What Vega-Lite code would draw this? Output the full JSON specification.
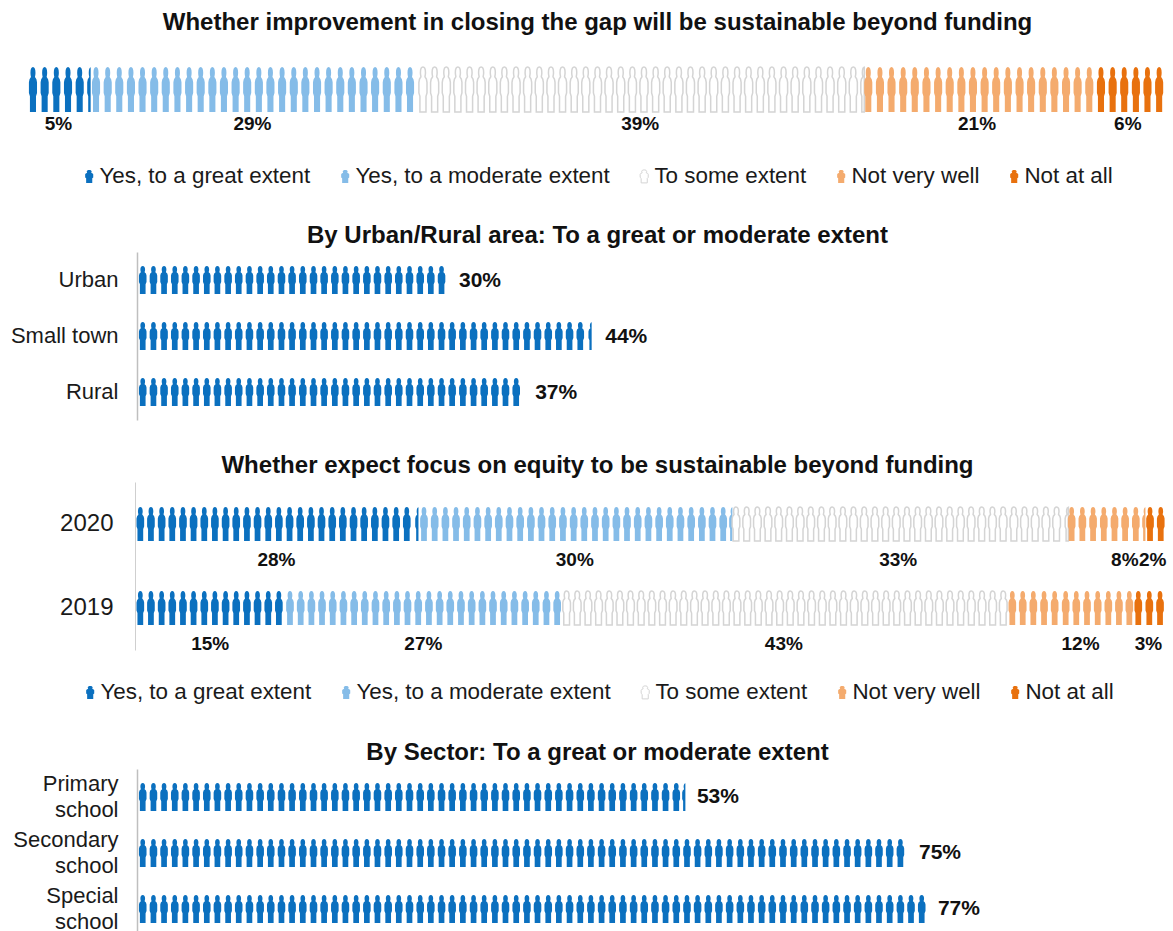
{
"$schema":"https://vega.github.io/schema/vega-lite/v6.json",
"width":1173,"height":931,"padding":0,"autosize":{"type":"none"},"background":"white",
"config":{"font":"Liberation Sans","view":{"stroke":null},"text":{"color":"#111111"},
 "axis":{"grid":false,"ticks":false}},
"datasets":{
"overall":[
{"row":"All","cat":"great","pos":0.35},{"row":"All","cat":"great","pos":1.38},{"row":"All","cat":"great","pos":2.41},{"row":"All","cat":"great","pos":3.44},{"row":"All","cat":"great","pos":4.47},{"row":"All","cat":"great","pos":5.49,"cut":true},
{"row":"All","cat":"moderate","pos":5.91},{"row":"All","cat":"moderate","pos":6.94},{"row":"All","cat":"moderate","pos":7.96},{"row":"All","cat":"moderate","pos":8.99},{"row":"All","cat":"moderate","pos":10.01},{"row":"All","cat":"moderate","pos":11.04},{"row":"All","cat":"moderate","pos":12.06},{"row":"All","cat":"moderate","pos":13.09},{"row":"All","cat":"moderate","pos":14.12},{"row":"All","cat":"moderate","pos":15.14},{"row":"All","cat":"moderate","pos":16.17},{"row":"All","cat":"moderate","pos":17.19},{"row":"All","cat":"moderate","pos":18.22},{"row":"All","cat":"moderate","pos":19.24},{"row":"All","cat":"moderate","pos":20.27},{"row":"All","cat":"moderate","pos":21.29},{"row":"All","cat":"moderate","pos":22.32},{"row":"All","cat":"moderate","pos":23.35},{"row":"All","cat":"moderate","pos":24.37},{"row":"All","cat":"moderate","pos":25.40},{"row":"All","cat":"moderate","pos":26.42},{"row":"All","cat":"moderate","pos":27.45},{"row":"All","cat":"moderate","pos":28.47},{"row":"All","cat":"moderate","pos":29.50},{"row":"All","cat":"moderate","pos":30.52},{"row":"All","cat":"moderate","pos":31.55},{"row":"All","cat":"moderate","pos":32.58},{"row":"All","cat":"moderate","pos":33.60},
{"row":"All","cat":"some","pos":34.74},{"row":"All","cat":"some","pos":35.77},{"row":"All","cat":"some","pos":36.80},{"row":"All","cat":"some","pos":37.82},{"row":"All","cat":"some","pos":38.85},{"row":"All","cat":"some","pos":39.87},{"row":"All","cat":"some","pos":40.90},{"row":"All","cat":"some","pos":41.92},{"row":"All","cat":"some","pos":42.95},{"row":"All","cat":"some","pos":43.97},{"row":"All","cat":"some","pos":45.00},{"row":"All","cat":"some","pos":46.03},{"row":"All","cat":"some","pos":47.05},{"row":"All","cat":"some","pos":48.08},{"row":"All","cat":"some","pos":49.10},{"row":"All","cat":"some","pos":50.13},{"row":"All","cat":"some","pos":51.15},{"row":"All","cat":"some","pos":52.18},{"row":"All","cat":"some","pos":53.21},{"row":"All","cat":"some","pos":54.23},{"row":"All","cat":"some","pos":55.26},{"row":"All","cat":"some","pos":56.28},{"row":"All","cat":"some","pos":57.31},{"row":"All","cat":"some","pos":58.33},{"row":"All","cat":"some","pos":59.36},{"row":"All","cat":"some","pos":60.38},{"row":"All","cat":"some","pos":61.41},{"row":"All","cat":"some","pos":62.44},{"row":"All","cat":"some","pos":63.46},{"row":"All","cat":"some","pos":64.49},{"row":"All","cat":"some","pos":65.51},{"row":"All","cat":"some","pos":66.54},{"row":"All","cat":"some","pos":67.56},{"row":"All","cat":"some","pos":68.59},{"row":"All","cat":"some","pos":69.62},{"row":"All","cat":"some","pos":70.64},{"row":"All","cat":"some","pos":71.67},{"row":"All","cat":"some","pos":72.69},{"row":"All","cat":"some","pos":73.71,"cut":true},
{"row":"All","cat":"notwell","pos":74.01},{"row":"All","cat":"notwell","pos":75.04},{"row":"All","cat":"notwell","pos":76.06},{"row":"All","cat":"notwell","pos":77.09},{"row":"All","cat":"notwell","pos":78.11},{"row":"All","cat":"notwell","pos":79.14},{"row":"All","cat":"notwell","pos":80.17},{"row":"All","cat":"notwell","pos":81.19},{"row":"All","cat":"notwell","pos":82.22},{"row":"All","cat":"notwell","pos":83.24},{"row":"All","cat":"notwell","pos":84.27},{"row":"All","cat":"notwell","pos":85.29},{"row":"All","cat":"notwell","pos":86.32},{"row":"All","cat":"notwell","pos":87.35},{"row":"All","cat":"notwell","pos":88.37},{"row":"All","cat":"notwell","pos":89.40},{"row":"All","cat":"notwell","pos":90.42},{"row":"All","cat":"notwell","pos":91.45},{"row":"All","cat":"notwell","pos":92.47},{"row":"All","cat":"notwell","pos":93.50},
{"row":"All","cat":"none","pos":94.53},{"row":"All","cat":"none","pos":95.56},{"row":"All","cat":"none","pos":96.58},{"row":"All","cat":"none","pos":97.61},{"row":"All","cat":"none","pos":98.63},{"row":"All","cat":"none","pos":99.66}
],
"overallLabels":[
{"row":"All","mid":2.6,"label":"5%"},{"row":"All","mid":19.7,"label":"29%"},{"row":"All","mid":53.9,"label":"39%"},{"row":"All","mid":83.6,"label":"21%"},{"row":"All","mid":96.9,"label":"6%"}
],
"area":[
{"row":"Urban","pos":0.46},{"row":"Urban","pos":1.50},{"row":"Urban","pos":2.53},{"row":"Urban","pos":3.57},{"row":"Urban","pos":4.60},{"row":"Urban","pos":5.64},{"row":"Urban","pos":6.68},{"row":"Urban","pos":7.71},{"row":"Urban","pos":8.75},{"row":"Urban","pos":9.78},{"row":"Urban","pos":10.82},{"row":"Urban","pos":11.86},{"row":"Urban","pos":12.89},{"row":"Urban","pos":13.93},{"row":"Urban","pos":14.96},{"row":"Urban","pos":16.00},{"row":"Urban","pos":17.04},{"row":"Urban","pos":18.07},{"row":"Urban","pos":19.11},{"row":"Urban","pos":20.14},{"row":"Urban","pos":21.18},{"row":"Urban","pos":22.22},{"row":"Urban","pos":23.25},{"row":"Urban","pos":24.29},{"row":"Urban","pos":25.32},{"row":"Urban","pos":26.36},{"row":"Urban","pos":27.40},{"row":"Urban","pos":28.43},{"row":"Urban","pos":29.47},
{"row":"Small town","pos":0.46},{"row":"Small town","pos":1.50},{"row":"Small town","pos":2.53},{"row":"Small town","pos":3.57},{"row":"Small town","pos":4.60},{"row":"Small town","pos":5.64},{"row":"Small town","pos":6.68},{"row":"Small town","pos":7.71},{"row":"Small town","pos":8.75},{"row":"Small town","pos":9.78},{"row":"Small town","pos":10.82},{"row":"Small town","pos":11.86},{"row":"Small town","pos":12.89},{"row":"Small town","pos":13.93},{"row":"Small town","pos":14.96},{"row":"Small town","pos":16.00},{"row":"Small town","pos":17.04},{"row":"Small town","pos":18.07},{"row":"Small town","pos":19.11},{"row":"Small town","pos":20.14},{"row":"Small town","pos":21.18},{"row":"Small town","pos":22.22},{"row":"Small town","pos":23.25},{"row":"Small town","pos":24.29},{"row":"Small town","pos":25.32},{"row":"Small town","pos":26.36},{"row":"Small town","pos":27.40},{"row":"Small town","pos":28.43},{"row":"Small town","pos":29.47},{"row":"Small town","pos":30.50},{"row":"Small town","pos":31.54},{"row":"Small town","pos":32.58},{"row":"Small town","pos":33.61},{"row":"Small town","pos":34.65},{"row":"Small town","pos":35.68},{"row":"Small town","pos":36.72},{"row":"Small town","pos":37.76},{"row":"Small town","pos":38.79},{"row":"Small town","pos":39.83},{"row":"Small town","pos":40.86},{"row":"Small town","pos":41.90},{"row":"Small town","pos":42.94},{"row":"Small town","pos":44.10,"cut":true},
{"row":"Rural","pos":0.46},{"row":"Rural","pos":1.50},{"row":"Rural","pos":2.53},{"row":"Rural","pos":3.57},{"row":"Rural","pos":4.60},{"row":"Rural","pos":5.64},{"row":"Rural","pos":6.68},{"row":"Rural","pos":7.71},{"row":"Rural","pos":8.75},{"row":"Rural","pos":9.78},{"row":"Rural","pos":10.82},{"row":"Rural","pos":11.86},{"row":"Rural","pos":12.89},{"row":"Rural","pos":13.93},{"row":"Rural","pos":14.96},{"row":"Rural","pos":16.00},{"row":"Rural","pos":17.04},{"row":"Rural","pos":18.07},{"row":"Rural","pos":19.11},{"row":"Rural","pos":20.14},{"row":"Rural","pos":21.18},{"row":"Rural","pos":22.22},{"row":"Rural","pos":23.25},{"row":"Rural","pos":24.29},{"row":"Rural","pos":25.32},{"row":"Rural","pos":26.36},{"row":"Rural","pos":27.40},{"row":"Rural","pos":28.43},{"row":"Rural","pos":29.47},{"row":"Rural","pos":30.50},{"row":"Rural","pos":31.54},{"row":"Rural","pos":32.58},{"row":"Rural","pos":33.61},{"row":"Rural","pos":34.65},{"row":"Rural","pos":35.68},{"row":"Rural","pos":36.72}
],
"areaLabels":[
{"row":"Urban","end":29.9,"label":"30%"},{"row":"Small town","end":44.1,"label":"44%"},{"row":"Rural","end":37.3,"label":"37%"}
],
"equity":[
{"row":"2020","cat":"great","pos":0.42},{"row":"2020","cat":"great","pos":1.45},{"row":"2020","cat":"great","pos":2.49},{"row":"2020","cat":"great","pos":3.52},{"row":"2020","cat":"great","pos":4.56},{"row":"2020","cat":"great","pos":5.59},{"row":"2020","cat":"great","pos":6.63},{"row":"2020","cat":"great","pos":7.66},{"row":"2020","cat":"great","pos":8.70},{"row":"2020","cat":"great","pos":9.73},{"row":"2020","cat":"great","pos":10.77},{"row":"2020","cat":"great","pos":11.80},{"row":"2020","cat":"great","pos":12.84},{"row":"2020","cat":"great","pos":13.87},{"row":"2020","cat":"great","pos":14.91},{"row":"2020","cat":"great","pos":15.94},{"row":"2020","cat":"great","pos":16.98},{"row":"2020","cat":"great","pos":18.01},{"row":"2020","cat":"great","pos":19.05},{"row":"2020","cat":"great","pos":20.08},{"row":"2020","cat":"great","pos":21.12},{"row":"2020","cat":"great","pos":22.15},{"row":"2020","cat":"great","pos":23.19},{"row":"2020","cat":"great","pos":24.22},{"row":"2020","cat":"great","pos":25.26},{"row":"2020","cat":"great","pos":26.29},{"row":"2020","cat":"great","pos":27.48,"cut":true},
{"row":"2020","cat":"moderate","pos":27.96},{"row":"2020","cat":"moderate","pos":29.00},{"row":"2020","cat":"moderate","pos":30.04},{"row":"2020","cat":"moderate","pos":31.07},{"row":"2020","cat":"moderate","pos":32.11},{"row":"2020","cat":"moderate","pos":33.15},{"row":"2020","cat":"moderate","pos":34.19},{"row":"2020","cat":"moderate","pos":35.22},{"row":"2020","cat":"moderate","pos":36.26},{"row":"2020","cat":"moderate","pos":37.30},{"row":"2020","cat":"moderate","pos":38.34},{"row":"2020","cat":"moderate","pos":39.37},{"row":"2020","cat":"moderate","pos":40.41},{"row":"2020","cat":"moderate","pos":41.45},{"row":"2020","cat":"moderate","pos":42.49},{"row":"2020","cat":"moderate","pos":43.52},{"row":"2020","cat":"moderate","pos":44.56},{"row":"2020","cat":"moderate","pos":45.60},{"row":"2020","cat":"moderate","pos":46.64},{"row":"2020","cat":"moderate","pos":47.67},{"row":"2020","cat":"moderate","pos":48.71},{"row":"2020","cat":"moderate","pos":49.75},{"row":"2020","cat":"moderate","pos":50.79},{"row":"2020","cat":"moderate","pos":51.82},{"row":"2020","cat":"moderate","pos":52.86},{"row":"2020","cat":"moderate","pos":53.90},{"row":"2020","cat":"moderate","pos":54.94},{"row":"2020","cat":"moderate","pos":55.97},{"row":"2020","cat":"moderate","pos":57.01},{"row":"2020","cat":"moderate","pos":57.96,"cut":true},
{"row":"2020","cat":"some","pos":58.25},{"row":"2020","cat":"some","pos":59.29},{"row":"2020","cat":"some","pos":60.33},{"row":"2020","cat":"some","pos":61.36},{"row":"2020","cat":"some","pos":62.40},{"row":"2020","cat":"some","pos":63.44},{"row":"2020","cat":"some","pos":64.48},{"row":"2020","cat":"some","pos":65.51},{"row":"2020","cat":"some","pos":66.55},{"row":"2020","cat":"some","pos":67.59},{"row":"2020","cat":"some","pos":68.63},{"row":"2020","cat":"some","pos":69.66},{"row":"2020","cat":"some","pos":70.70},{"row":"2020","cat":"some","pos":71.74},{"row":"2020","cat":"some","pos":72.78},{"row":"2020","cat":"some","pos":73.81},{"row":"2020","cat":"some","pos":74.85},{"row":"2020","cat":"some","pos":75.89},{"row":"2020","cat":"some","pos":76.93},{"row":"2020","cat":"some","pos":77.96},{"row":"2020","cat":"some","pos":79.00},{"row":"2020","cat":"some","pos":80.04},{"row":"2020","cat":"some","pos":81.08},{"row":"2020","cat":"some","pos":82.11},{"row":"2020","cat":"some","pos":83.15},{"row":"2020","cat":"some","pos":84.19},{"row":"2020","cat":"some","pos":85.23},{"row":"2020","cat":"some","pos":86.26},{"row":"2020","cat":"some","pos":87.30},{"row":"2020","cat":"some","pos":88.34},{"row":"2020","cat":"some","pos":89.38},{"row":"2020","cat":"some","pos":90.58,"cut":true},
{"row":"2020","cat":"notwell","pos":90.84},{"row":"2020","cat":"notwell","pos":91.88},{"row":"2020","cat":"notwell","pos":92.92},{"row":"2020","cat":"notwell","pos":93.96},{"row":"2020","cat":"notwell","pos":95.00},{"row":"2020","cat":"notwell","pos":96.03},{"row":"2020","cat":"notwell","pos":97.07},{"row":"2020","cat":"notwell","pos":98.06,"cut":true},
{"row":"2020","cat":"none","pos":98.45},{"row":"2020","cat":"none","pos":99.49},
{"row":"2019","cat":"great","pos":0.42},{"row":"2019","cat":"great","pos":1.45},{"row":"2019","cat":"great","pos":2.49},{"row":"2019","cat":"great","pos":3.52},{"row":"2019","cat":"great","pos":4.56},{"row":"2019","cat":"great","pos":5.59},{"row":"2019","cat":"great","pos":6.63},{"row":"2019","cat":"great","pos":7.66},{"row":"2019","cat":"great","pos":8.70},{"row":"2019","cat":"great","pos":9.73},{"row":"2019","cat":"great","pos":10.77},{"row":"2019","cat":"great","pos":11.80},{"row":"2019","cat":"great","pos":12.84},{"row":"2019","cat":"great","pos":13.87},
{"row":"2019","cat":"moderate","pos":14.95},{"row":"2019","cat":"moderate","pos":15.99},{"row":"2019","cat":"moderate","pos":17.03},{"row":"2019","cat":"moderate","pos":18.06},{"row":"2019","cat":"moderate","pos":19.10},{"row":"2019","cat":"moderate","pos":20.14},{"row":"2019","cat":"moderate","pos":21.18},{"row":"2019","cat":"moderate","pos":22.21},{"row":"2019","cat":"moderate","pos":23.25},{"row":"2019","cat":"moderate","pos":24.29},{"row":"2019","cat":"moderate","pos":25.33},{"row":"2019","cat":"moderate","pos":26.36},{"row":"2019","cat":"moderate","pos":27.40},{"row":"2019","cat":"moderate","pos":28.44},{"row":"2019","cat":"moderate","pos":29.48},{"row":"2019","cat":"moderate","pos":30.51},{"row":"2019","cat":"moderate","pos":31.55},{"row":"2019","cat":"moderate","pos":32.59},{"row":"2019","cat":"moderate","pos":33.63},{"row":"2019","cat":"moderate","pos":34.66},{"row":"2019","cat":"moderate","pos":35.70},{"row":"2019","cat":"moderate","pos":36.74},{"row":"2019","cat":"moderate","pos":37.78},{"row":"2019","cat":"moderate","pos":38.81},{"row":"2019","cat":"moderate","pos":39.85},{"row":"2019","cat":"moderate","pos":40.89},
{"row":"2019","cat":"some","pos":41.81},{"row":"2019","cat":"some","pos":42.84},{"row":"2019","cat":"some","pos":43.88},{"row":"2019","cat":"some","pos":44.91},{"row":"2019","cat":"some","pos":45.95},{"row":"2019","cat":"some","pos":46.98},{"row":"2019","cat":"some","pos":48.01},{"row":"2019","cat":"some","pos":49.05},{"row":"2019","cat":"some","pos":50.08},{"row":"2019","cat":"some","pos":51.12},{"row":"2019","cat":"some","pos":52.15},{"row":"2019","cat":"some","pos":53.18},{"row":"2019","cat":"some","pos":54.22},{"row":"2019","cat":"some","pos":55.25},{"row":"2019","cat":"some","pos":56.29},{"row":"2019","cat":"some","pos":57.32},{"row":"2019","cat":"some","pos":58.35},{"row":"2019","cat":"some","pos":59.39},{"row":"2019","cat":"some","pos":60.42},{"row":"2019","cat":"some","pos":61.46},{"row":"2019","cat":"some","pos":62.49},{"row":"2019","cat":"some","pos":63.52},{"row":"2019","cat":"some","pos":64.56},{"row":"2019","cat":"some","pos":65.59},{"row":"2019","cat":"some","pos":66.63},{"row":"2019","cat":"some","pos":67.66},{"row":"2019","cat":"some","pos":68.69},{"row":"2019","cat":"some","pos":69.73},{"row":"2019","cat":"some","pos":70.76},{"row":"2019","cat":"some","pos":71.80},{"row":"2019","cat":"some","pos":72.83},{"row":"2019","cat":"some","pos":73.86},{"row":"2019","cat":"some","pos":74.90},{"row":"2019","cat":"some","pos":75.93},{"row":"2019","cat":"some","pos":76.97},{"row":"2019","cat":"some","pos":78.00},{"row":"2019","cat":"some","pos":79.03},{"row":"2019","cat":"some","pos":80.07},{"row":"2019","cat":"some","pos":81.10},{"row":"2019","cat":"some","pos":82.14},{"row":"2019","cat":"some","pos":83.17},{"row":"2019","cat":"some","pos":84.20},
{"row":"2019","cat":"notwell","pos":85.08},{"row":"2019","cat":"notwell","pos":86.09},{"row":"2019","cat":"notwell","pos":87.12},{"row":"2019","cat":"notwell","pos":88.16},{"row":"2019","cat":"notwell","pos":89.19},{"row":"2019","cat":"notwell","pos":90.26},{"row":"2019","cat":"notwell","pos":91.29},{"row":"2019","cat":"notwell","pos":92.33},{"row":"2019","cat":"notwell","pos":93.37},{"row":"2019","cat":"notwell","pos":94.40},{"row":"2019","cat":"notwell","pos":95.43},{"row":"2019","cat":"notwell","pos":96.44},
{"row":"2019","cat":"none","pos":97.31},{"row":"2019","cat":"none","pos":98.38},{"row":"2019","cat":"none","pos":99.42}
],
"equityLabels":[
{"row":"2020","mid":13.64,"label":"28%"},{"row":"2020","mid":42.6,"label":"30%"},{"row":"2020","mid":74,"label":"33%"},{"row":"2020","mid":96,"label":"8%"},{"row":"2020","mid":98.7,"label":"2%"},
{"row":"2019","mid":7.2,"label":"15%"},{"row":"2019","mid":27.9,"label":"27%"},{"row":"2019","mid":62.9,"label":"43%"},{"row":"2019","mid":91.7,"label":"12%"},{"row":"2019","mid":98.3,"label":"3%"}
],
"sector":[
{"row":"Primary","pos":0.46},{"row":"Primary","pos":1.50},{"row":"Primary","pos":2.53},{"row":"Primary","pos":3.57},{"row":"Primary","pos":4.60},{"row":"Primary","pos":5.64},{"row":"Primary","pos":6.68},{"row":"Primary","pos":7.71},{"row":"Primary","pos":8.75},{"row":"Primary","pos":9.78},{"row":"Primary","pos":10.82},{"row":"Primary","pos":11.86},{"row":"Primary","pos":12.89},{"row":"Primary","pos":13.93},{"row":"Primary","pos":14.96},{"row":"Primary","pos":16.00},{"row":"Primary","pos":17.04},{"row":"Primary","pos":18.07},{"row":"Primary","pos":19.11},{"row":"Primary","pos":20.14},{"row":"Primary","pos":21.18},{"row":"Primary","pos":22.22},{"row":"Primary","pos":23.25},{"row":"Primary","pos":24.29},{"row":"Primary","pos":25.32},{"row":"Primary","pos":26.36},{"row":"Primary","pos":27.40},{"row":"Primary","pos":28.43},{"row":"Primary","pos":29.47},{"row":"Primary","pos":30.50},{"row":"Primary","pos":31.54},{"row":"Primary","pos":32.58},{"row":"Primary","pos":33.61},{"row":"Primary","pos":34.65},{"row":"Primary","pos":35.68},{"row":"Primary","pos":36.72},{"row":"Primary","pos":37.76},{"row":"Primary","pos":38.79},{"row":"Primary","pos":39.83},{"row":"Primary","pos":40.86},{"row":"Primary","pos":41.90},{"row":"Primary","pos":42.94},{"row":"Primary","pos":43.97},{"row":"Primary","pos":45.01},{"row":"Primary","pos":46.04},{"row":"Primary","pos":47.08},{"row":"Primary","pos":48.12},{"row":"Primary","pos":49.15},{"row":"Primary","pos":50.19},{"row":"Primary","pos":51.22},{"row":"Primary","pos":52.26},{"row":"Primary","pos":53.20,"cut":true},
{"row":"Secondary","pos":0.46},{"row":"Secondary","pos":1.50},{"row":"Secondary","pos":2.53},{"row":"Secondary","pos":3.57},{"row":"Secondary","pos":4.60},{"row":"Secondary","pos":5.64},{"row":"Secondary","pos":6.68},{"row":"Secondary","pos":7.71},{"row":"Secondary","pos":8.75},{"row":"Secondary","pos":9.78},{"row":"Secondary","pos":10.82},{"row":"Secondary","pos":11.86},{"row":"Secondary","pos":12.89},{"row":"Secondary","pos":13.93},{"row":"Secondary","pos":14.96},{"row":"Secondary","pos":16.00},{"row":"Secondary","pos":17.04},{"row":"Secondary","pos":18.07},{"row":"Secondary","pos":19.11},{"row":"Secondary","pos":20.14},{"row":"Secondary","pos":21.18},{"row":"Secondary","pos":22.22},{"row":"Secondary","pos":23.25},{"row":"Secondary","pos":24.29},{"row":"Secondary","pos":25.32},{"row":"Secondary","pos":26.36},{"row":"Secondary","pos":27.40},{"row":"Secondary","pos":28.43},{"row":"Secondary","pos":29.47},{"row":"Secondary","pos":30.50},{"row":"Secondary","pos":31.54},{"row":"Secondary","pos":32.58},{"row":"Secondary","pos":33.61},{"row":"Secondary","pos":34.65},{"row":"Secondary","pos":35.68},{"row":"Secondary","pos":36.72},{"row":"Secondary","pos":37.76},{"row":"Secondary","pos":38.79},{"row":"Secondary","pos":39.83},{"row":"Secondary","pos":40.86},{"row":"Secondary","pos":41.90},{"row":"Secondary","pos":42.94},{"row":"Secondary","pos":43.97},{"row":"Secondary","pos":45.01},{"row":"Secondary","pos":46.04},{"row":"Secondary","pos":47.08},{"row":"Secondary","pos":48.12},{"row":"Secondary","pos":49.15},{"row":"Secondary","pos":50.19},{"row":"Secondary","pos":51.22},{"row":"Secondary","pos":52.26},{"row":"Secondary","pos":53.30},{"row":"Secondary","pos":54.33},{"row":"Secondary","pos":55.37},{"row":"Secondary","pos":56.40},{"row":"Secondary","pos":57.44},{"row":"Secondary","pos":58.48},{"row":"Secondary","pos":59.51},{"row":"Secondary","pos":60.55},{"row":"Secondary","pos":61.58},{"row":"Secondary","pos":62.62},{"row":"Secondary","pos":63.66},{"row":"Secondary","pos":64.69},{"row":"Secondary","pos":65.73},{"row":"Secondary","pos":66.76},{"row":"Secondary","pos":67.80},{"row":"Secondary","pos":68.84},{"row":"Secondary","pos":69.87},{"row":"Secondary","pos":70.91},{"row":"Secondary","pos":71.94},{"row":"Secondary","pos":72.98},{"row":"Secondary","pos":74.02},
{"row":"Special","pos":0.46},{"row":"Special","pos":1.50},{"row":"Special","pos":2.53},{"row":"Special","pos":3.57},{"row":"Special","pos":4.60},{"row":"Special","pos":5.64},{"row":"Special","pos":6.68},{"row":"Special","pos":7.71},{"row":"Special","pos":8.75},{"row":"Special","pos":9.78},{"row":"Special","pos":10.82},{"row":"Special","pos":11.86},{"row":"Special","pos":12.89},{"row":"Special","pos":13.93},{"row":"Special","pos":14.96},{"row":"Special","pos":16.00},{"row":"Special","pos":17.04},{"row":"Special","pos":18.07},{"row":"Special","pos":19.11},{"row":"Special","pos":20.14},{"row":"Special","pos":21.18},{"row":"Special","pos":22.22},{"row":"Special","pos":23.25},{"row":"Special","pos":24.29},{"row":"Special","pos":25.32},{"row":"Special","pos":26.36},{"row":"Special","pos":27.40},{"row":"Special","pos":28.43},{"row":"Special","pos":29.47},{"row":"Special","pos":30.50},{"row":"Special","pos":31.54},{"row":"Special","pos":32.58},{"row":"Special","pos":33.61},{"row":"Special","pos":34.65},{"row":"Special","pos":35.68},{"row":"Special","pos":36.72},{"row":"Special","pos":37.76},{"row":"Special","pos":38.79},{"row":"Special","pos":39.83},{"row":"Special","pos":40.86},{"row":"Special","pos":41.90},{"row":"Special","pos":42.94},{"row":"Special","pos":43.97},{"row":"Special","pos":45.01},{"row":"Special","pos":46.04},{"row":"Special","pos":47.08},{"row":"Special","pos":48.12},{"row":"Special","pos":49.15},{"row":"Special","pos":50.19},{"row":"Special","pos":51.22},{"row":"Special","pos":52.26},{"row":"Special","pos":53.30},{"row":"Special","pos":54.33},{"row":"Special","pos":55.37},{"row":"Special","pos":56.40},{"row":"Special","pos":57.44},{"row":"Special","pos":58.48},{"row":"Special","pos":59.51},{"row":"Special","pos":60.55},{"row":"Special","pos":61.58},{"row":"Special","pos":62.62},{"row":"Special","pos":63.66},{"row":"Special","pos":64.69},{"row":"Special","pos":65.73},{"row":"Special","pos":66.76},{"row":"Special","pos":67.80},{"row":"Special","pos":68.84},{"row":"Special","pos":69.87},{"row":"Special","pos":70.91},{"row":"Special","pos":71.94},{"row":"Special","pos":72.98},{"row":"Special","pos":74.02},{"row":"Special","pos":75.05},{"row":"Special","pos":76.09}
],
"sectorLabels":[
{"row":"Primary","end":53.0,"label":"53%"},{"row":"Secondary","end":74.56,"label":"75%"},{"row":"Special","end":76.4,"label":"77%"}
]
},
"resolve":{"scale":{"x":"independent","y":"independent","fill":"independent","stroke":"independent"},"axis":{"x":"independent","y":"independent"},"legend":{"fill":"independent","stroke":"independent"}},
"layer":[
{"layer":[
 {"data":{"name":"overall"},
  "mark":{"type":"point","filled":true,"size":2025,"strokeWidth":1.5,"opacity":1},
  "encoding":{
   "x":{"field":"pos","type":"quantitative","scale":{"domain":[0,100],"range":[29,1163]},
    "axis":{"orient":"top","domain":false,"labels":false,"title":"Whether improvement in closing the gap will be sustainable beyond funding","titleX":597,"titleY":22,"titleAlign":"center","titleBaseline":"middle","titleFontSize":24,"titleLimit":1100,"titleFontWeight":"bold","titleColor":"#111111"}},
   "y":{"field":"row","type":"nominal","scale":{"type":"band","domain":["All"],"range":[67,112],"paddingInner":0,"paddingOuter":0},"axis":null},
   "shape":{"condition":{"test":"datum.cut","value":"M-0.027,-0.99 C-0.072,-0.98,-0.112,-0.9,-0.112,-0.75 C-0.112,-0.65,-0.09,-0.6,-0.09,-0.56 L-0.153,-0.46 L-0.18,-0.32 L-0.18,0.15 L-0.135,0.3 L-0.135,1 L-0.027,1 Z"},"value":"M0,-1 C0.072,-1,0.112,-0.9,0.112,-0.75 C0.112,-0.65,0.09,-0.6,0.09,-0.56 L0.153,-0.46 L0.18,-0.32 L0.18,0.15 L0.135,0.3 L0.135,1 L-0.135,1 L-0.135,0.3 L-0.18,0.15 L-0.18,-0.32 L-0.153,-0.46 L-0.09,-0.56 C-0.09,-0.6,-0.112,-0.65,-0.112,-0.75 C-0.112,-0.9,-0.072,-1,0,-1 Z"},
   "fill":{"field":"cat","type":"nominal","scale":{"domain":["great","moderate","some","notwell","none"],"range":["#0B70BF","#85BCE8","#FFFFFF","#F4AB6E","#E8710E"]},
    "legend":{"orient":"none","legendX":78,"legendY":165,"direction":"horizontal","columns":5,"title":null,"columnPadding":23,"symbolType":"M0,-1 C0.25,-1,0.38,-0.9,0.38,-0.75 C0.38,-0.65,0.31,-0.6,0.31,-0.56 L0.53,-0.46 L0.62,-0.32 L0.62,0.15 L0.47,0.3 L0.47,1 L-0.47,1 L-0.47,0.3 L-0.62,0.15 L-0.62,-0.32 L-0.53,-0.46 L-0.31,-0.56 C-0.31,-0.6,-0.38,-0.65,-0.38,-0.75 C-0.38,-0.9,-0.25,-1,0,-1 Z","symbolSize":169,"labelFontSize":22.4,"labelLimit":400,"labelColor":"#1a1a1a","labelOffset":-1,"symbolStrokeWidth":1,"labelExpr":"{'great':'Yes, to a great extent','moderate':'Yes, to a moderate extent','some':'To some extent','notwell':'Not very well','none':'Not at all'}[datum.label]"}},
   "stroke":{"field":"cat","type":"nominal","scale":{"domain":["great","moderate","some","notwell","none"],"range":["transparent","transparent","#D4D4D4","transparent","transparent"]},
    "legend":{"orient":"none","legendX":78,"legendY":165,"direction":"horizontal","columns":5,"title":null,"columnPadding":23,"symbolType":"M0,-1 C0.25,-1,0.38,-0.9,0.38,-0.75 C0.38,-0.65,0.31,-0.6,0.31,-0.56 L0.53,-0.46 L0.62,-0.32 L0.62,0.15 L0.47,0.3 L0.47,1 L-0.47,1 L-0.47,0.3 L-0.62,0.15 L-0.62,-0.32 L-0.53,-0.46 L-0.31,-0.56 C-0.31,-0.6,-0.38,-0.65,-0.38,-0.75 C-0.38,-0.9,-0.25,-1,0,-1 Z","symbolSize":169,"labelFontSize":22.4,"labelLimit":400,"labelColor":"#1a1a1a","labelOffset":-1,"symbolStrokeWidth":1,"labelExpr":"{'great':'Yes, to a great extent','moderate':'Yes, to a moderate extent','some':'To some extent','notwell':'Not very well','none':'Not at all'}[datum.label]"}}
  }},
 {"data":{"name":"overallLabels"},
  "mark":{"type":"text","fontWeight":"bold","fontSize":19,"baseline":"middle","align":"center","dy":34.5},
  "encoding":{"x":{"field":"mid","type":"quantitative"},"y":{"field":"row","type":"nominal","axis":null},"text":{"field":"label"}}}
]},
{"layer":[
 {"data":{"name":"area"},
  "mark":{"type":"point","filled":true,"size":784,"opacity":1,"color":"#0B70BF","strokeWidth":0},
  "encoding":{
   "x":{"field":"pos","type":"quantitative","scale":{"domain":[0,100],"range":[138,1168]},
    "axis":{"orient":"top","domain":false,"labels":false,"title":"By Urban/Rural area: To a great or moderate extent","titleX":597,"titleY":235,"titleAlign":"center","titleBaseline":"middle","titleFontSize":24,"titleLimit":1100,"titleFontWeight":"bold","titleColor":"#111111"}},
   "y":{"field":"row","type":"nominal","scale":{"type":"band","domain":["Urban","Small town","Rural"],"range":[252,420],"paddingInner":0,"paddingOuter":0},
    "axis":{"orient":"left","offset":-137,"title":null,"domainColor":"#BFBFBF","domainWidth":1.5,"labelFontSize":22,"labelColor":"#1a1a1a","labelPadding":19}},
   "shape":{"condition":{"test":"datum.cut","value":"M-0.041,-0.99 C-0.108,-0.98,-0.167,-0.9,-0.167,-0.75 C-0.167,-0.65,-0.135,-0.6,-0.135,-0.56 L-0.23,-0.46 L-0.27,-0.32 L-0.27,0.15 L-0.203,0.3 L-0.203,1 L-0.041,1 Z"},"value":"M0,-1 C0.108,-1,0.167,-0.9,0.167,-0.75 C0.167,-0.65,0.135,-0.6,0.135,-0.56 L0.23,-0.46 L0.27,-0.32 L0.27,0.15 L0.203,0.3 L0.203,1 L-0.203,1 L-0.203,0.3 L-0.27,0.15 L-0.27,-0.32 L-0.23,-0.46 L-0.135,-0.56 C-0.135,-0.6,-0.167,-0.65,-0.167,-0.75 C-0.167,-0.9,-0.108,-1,0,-1 Z"}
  }},
 {"data":{"name":"areaLabels"},
  "mark":{"type":"text","fontWeight":"bold","fontSize":21,"baseline":"middle","align":"left","dx":13,"dy":1},
  "encoding":{"x":{"field":"end","type":"quantitative"},"y":{"field":"row","type":"nominal"},"text":{"field":"label"}}}
]},
{"layer":[
 {"data":{"name":"equity"},
  "mark":{"type":"point","filled":true,"size":1156,"strokeWidth":1.5,"opacity":1},
  "encoding":{
   "x":{"field":"pos","type":"quantitative","scale":{"domain":[0,100],"range":[136,1166]},
    "axis":{"orient":"top","domain":false,"labels":false,"title":"Whether expect focus on equity to be sustainable beyond funding","titleX":597,"titleY":465,"titleAlign":"center","titleBaseline":"middle","titleFontSize":24,"titleLimit":1100,"titleFontWeight":"bold","titleColor":"#111111"}},
   "y":{"field":"row","type":"nominal","scale":{"type":"band","domain":["2020","2019"],"range":[482,650],"paddingInner":0,"paddingOuter":0},
    "axis":{"orient":"left","offset":-135,"title":null,"domainColor":"#CFCFCF","domainWidth":1,"labelFontSize":24,"labelColor":"#1a1a1a","labelPadding":22}},
   "shape":{"condition":{"test":"datum.cut","value":"M-0.034,-0.99 C-0.09,-0.98,-0.14,-0.9,-0.14,-0.75 C-0.14,-0.65,-0.113,-0.6,-0.113,-0.56 L-0.191,-0.46 L-0.225,-0.32 L-0.225,0.15 L-0.169,0.3 L-0.169,1 L-0.034,1 Z"},"value":"M0,-1 C0.09,-1,0.14,-0.9,0.14,-0.75 C0.14,-0.65,0.113,-0.6,0.113,-0.56 L0.191,-0.46 L0.225,-0.32 L0.225,0.15 L0.169,0.3 L0.169,1 L-0.169,1 L-0.169,0.3 L-0.225,0.15 L-0.225,-0.32 L-0.191,-0.46 L-0.113,-0.56 C-0.113,-0.6,-0.14,-0.65,-0.14,-0.75 C-0.14,-0.9,-0.09,-1,0,-1 Z"},
   "fill":{"field":"cat","type":"nominal","scale":{"domain":["great","moderate","some","notwell","none"],"range":["#0B70BF","#85BCE8","#FFFFFF","#F4AB6E","#E8710E"]},
    "legend":{"orient":"none","legendX":79,"legendY":681,"direction":"horizontal","columns":5,"title":null,"columnPadding":23,"symbolType":"M0,-1 C0.25,-1,0.38,-0.9,0.38,-0.75 C0.38,-0.65,0.31,-0.6,0.31,-0.56 L0.53,-0.46 L0.62,-0.32 L0.62,0.15 L0.47,0.3 L0.47,1 L-0.47,1 L-0.47,0.3 L-0.62,0.15 L-0.62,-0.32 L-0.53,-0.46 L-0.31,-0.56 C-0.31,-0.6,-0.38,-0.65,-0.38,-0.75 C-0.38,-0.9,-0.25,-1,0,-1 Z","symbolSize":169,"labelFontSize":22.4,"labelLimit":400,"labelColor":"#1a1a1a","labelOffset":-1,"symbolStrokeWidth":1,"labelExpr":"{'great':'Yes, to a great extent','moderate':'Yes, to a moderate extent','some':'To some extent','notwell':'Not very well','none':'Not at all'}[datum.label]"}},
   "stroke":{"field":"cat","type":"nominal","scale":{"domain":["great","moderate","some","notwell","none"],"range":["transparent","transparent","#D4D4D4","transparent","transparent"]},
    "legend":{"orient":"none","legendX":79,"legendY":681,"direction":"horizontal","columns":5,"title":null,"columnPadding":23,"symbolType":"M0,-1 C0.25,-1,0.38,-0.9,0.38,-0.75 C0.38,-0.65,0.31,-0.6,0.31,-0.56 L0.53,-0.46 L0.62,-0.32 L0.62,0.15 L0.47,0.3 L0.47,1 L-0.47,1 L-0.47,0.3 L-0.62,0.15 L-0.62,-0.32 L-0.53,-0.46 L-0.31,-0.56 C-0.31,-0.6,-0.38,-0.65,-0.38,-0.75 C-0.38,-0.9,-0.25,-1,0,-1 Z","symbolSize":169,"labelFontSize":22.4,"labelLimit":400,"labelColor":"#1a1a1a","labelOffset":-1,"symbolStrokeWidth":1,"labelExpr":"{'great':'Yes, to a great extent','moderate':'Yes, to a moderate extent','some':'To some extent','notwell':'Not very well','none':'Not at all'}[datum.label]"}}
  }},
 {"data":{"name":"equityLabels"},
  "mark":{"type":"text","fontWeight":"bold","fontSize":19,"baseline":"middle","align":"center","dy":36},
  "encoding":{"x":{"field":"mid","type":"quantitative"},"y":{"field":"row","type":"nominal"},"text":{"field":"label"}}}
]},
{"layer":[
 {"data":{"name":"sector"},
  "mark":{"type":"point","filled":true,"size":784,"opacity":1,"color":"#0B70BF","strokeWidth":0},
  "encoding":{
   "x":{"field":"pos","type":"quantitative","scale":{"domain":[0,100],"range":[138,1168]},
    "axis":{"orient":"top","domain":false,"labels":false,"title":"By Sector: To a great or moderate extent","titleX":597,"titleY":752,"titleAlign":"center","titleBaseline":"middle","titleFontSize":24,"titleLimit":1100,"titleFontWeight":"bold","titleColor":"#111111"}},
   "y":{"field":"row","type":"nominal","scale":{"type":"band","domain":["Primary","Secondary","Special"],"range":[769,937],"paddingInner":0,"paddingOuter":0},
    "axis":{"orient":"left","offset":-137,"title":null,"domainColor":"#BFBFBF","domainWidth":1.5,"labelFontSize":22,"labelColor":"#1a1a1a","labelPadding":19,"labelLineHeight":26,"labelOffset":-13,"labelExpr":"datum.label=='Secondary' ? [datum.label,'school\u00a0\u00a0\u00a0\u00a0'] : [datum.label,'school\u00a0']"}},
   "shape":{"condition":{"test":"datum.cut","value":"M-0.041,-0.99 C-0.108,-0.98,-0.167,-0.9,-0.167,-0.75 C-0.167,-0.65,-0.135,-0.6,-0.135,-0.56 L-0.23,-0.46 L-0.27,-0.32 L-0.27,0.15 L-0.203,0.3 L-0.203,1 L-0.041,1 Z"},"value":"M0,-1 C0.108,-1,0.167,-0.9,0.167,-0.75 C0.167,-0.65,0.135,-0.6,0.135,-0.56 L0.23,-0.46 L0.27,-0.32 L0.27,0.15 L0.203,0.3 L0.203,1 L-0.203,1 L-0.203,0.3 L-0.27,0.15 L-0.27,-0.32 L-0.23,-0.46 L-0.135,-0.56 C-0.135,-0.6,-0.167,-0.65,-0.167,-0.75 C-0.167,-0.9,-0.108,-1,0,-1 Z"}
  }},
 {"data":{"name":"sectorLabels"},
  "mark":{"type":"text","fontWeight":"bold","fontSize":21,"baseline":"middle","align":"left","dx":13},
  "encoding":{"x":{"field":"end","type":"quantitative"},"y":{"field":"row","type":"nominal"},"text":{"field":"label"}}}
]}
]
}
